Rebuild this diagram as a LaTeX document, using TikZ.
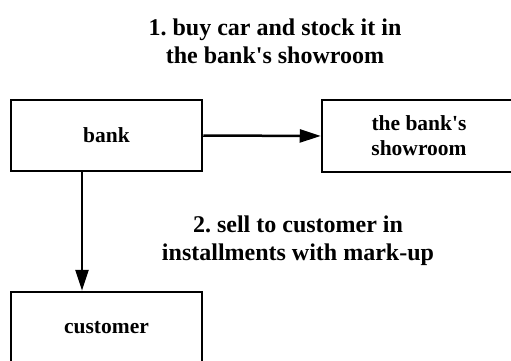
\documentclass[tikz,border=0pt]{standalone}
\usepackage{fontspec}
\setmainfont{Liberation Serif}
\usetikzlibrary{arrows.meta}
\frenchspacing
\begin{document}
\begin{tikzpicture}[x=1pt,y=-1pt,
  box/.style={draw=black,line width=2.5pt,fill=white,minimum width=191pt,minimum height=71pt,inner sep=0pt,align=center,font=\fontsize{21.5}{25}\selectfont\bfseries},
  lbl/.style={align=center,font=\fontsize{24}{28}\selectfont\bfseries,inner sep=0pt},
  conn/.style={line width=2.5pt,-{Triangle[length=21pt,width=13pt]}}]
\useasboundingbox (0,0) rectangle (511,361);
\node[box] (bank) at (106.5,135.5) {bank};
\node[box,minimum width=194pt,minimum height=72pt] (show) at (419,136) {the bank\textquotesingle s\\showroom};
\node[box] (cust) at (106.5,327.5) {customer};
\node[lbl] (t1) at (275,41) {1. buy car and stock it in\\the bank\textquotesingle s showroom};
\node[lbl] (t2) at (298,241) {2. sell to customer in\\installments with mark-up};
\draw[conn] (bank.east) -- (show.west);
\draw[conn] (bank.south -| 82,0) -- (cust.north -| 82,0);
\end{tikzpicture}
\end{document}
